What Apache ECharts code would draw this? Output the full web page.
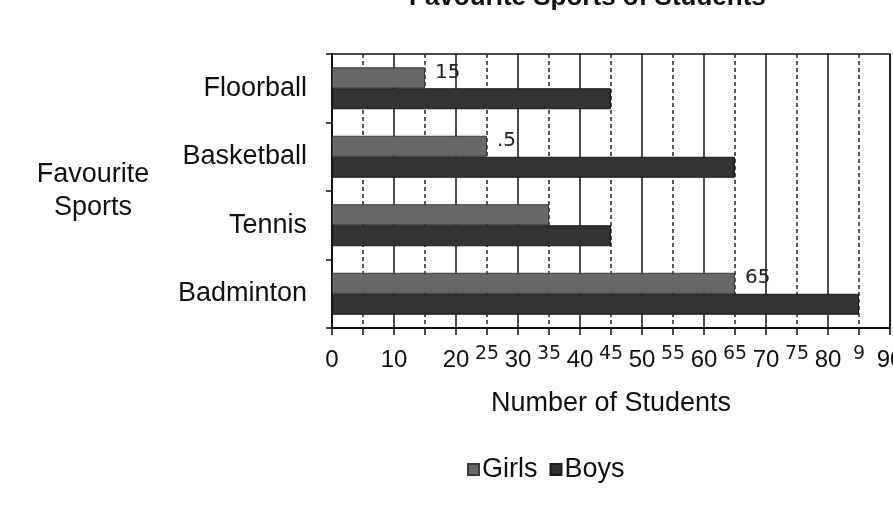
<!DOCTYPE html>
<html>
<head>
<meta charset="utf-8">
<script src="https://cdn.jsdelivr.net/npm/echarts@6/dist/echarts.min.js"></script>
<style>
html,body{margin:0;padding:0;background:#fff;}
#chart{width:893px;height:506px;}
</style>
</head>
<body>
<div id="chart"></div>
<script>
// ---- data ----
const categories = ['Floorball', 'Basketball', 'Tennis', 'Badminton'];
const girls = [15, 25, 35, 65];
const boys = [45, 65, 45, 85];
const seriesNames = ['Girls', 'Boys'];
// handwritten notes next to the girls' bars
const girlNotes = ['15', '.5', '', '65'];
// handwritten in-between tick labels
const halfTickLabels = {25: '25', 35: '35', 45: '45', 55: '55', 65: '65', 75: '75', 85: '9'};

const FONT = 'Liberation Sans, Arial, sans-serif';
const INK = '#111';

const chart = echarts.init(document.getElementById('chart'), null, {renderer: 'canvas'});

const option = {
  backgroundColor: '#fff',
  animation: false,
  title: {
    text: 'Favourite Sports of Students',
    left: 404,
    top: -20,
    textStyle: {fontFamily: FONT, fontSize: 26, fontWeight: 'bold', color: INK}
  },
  legend: {
    data: seriesNames,
    left: 462,
    top: 451,
    itemWidth: 11,
    itemHeight: 11,
    itemGap: 12,
    icon: 'rect',
    textStyle: {fontFamily: FONT, fontSize: 27, color: INK, padding: [0, 0, 0, -2]}
  },
  grid: {
    left: 332, right: 3, top: 54, bottom: 178,
    outerBoundsMode: 'none',
    containLabel: false,
    show: true, borderColor: INK, borderWidth: 1.5, backgroundColor: 'transparent'
  },
  xAxis: [{
    type: 'value',
    min: 0, max: 90, interval: 10,
    name: 'Number of Students',
    nameLocation: 'middle',
    nameGap: 62,
    nameTextStyle: {fontFamily: FONT, fontSize: 27, color: INK},
    axisLine: {show: true, lineStyle: {color: INK, width: 2}},
    axisTick: {show: true, length: 7, lineStyle: {color: INK, width: 1.5}},
    minorTick: {show: true, splitNumber: 2, length: 7, lineStyle: {color: INK, width: 1.5}},
    splitLine: {show: true, lineStyle: {color: INK, width: 1.5}},
    minorSplitLine: {show: true, lineStyle: {color: '#222', width: 1.5, type: [4, 3]}},
    axisLabel: {fontFamily: FONT, fontSize: 24, color: INK, margin: 20}
  }, {
    type: 'value',
    position: 'bottom',
    min: 0, max: 90, interval: 5,
    axisLine: {show: false},
    axisTick: {show: false},
    splitLine: {show: false},
    axisLabel: {
      fontFamily: 'DejaVu Sans, sans-serif', fontSize: 19, color: '#1a1a1a', margin: 17,
      formatter: v => halfTickLabels[v] || ''
    }
  }],
  yAxis: {
    type: 'category',
    data: categories,
    inverse: true,
    name: 'Favourite\nSports',
    nameLocation: 'middle',
    nameRotate: 0,
    nameGap: 239,
    nameTextStyle: {fontFamily: FONT, fontSize: 27, color: INK, align: 'center', lineHeight: 33},
    axisLine: {show: true, lineStyle: {color: INK, width: 2}},
    axisTick: {show: true, length: 6, lineStyle: {color: INK, width: 1.5}},
    splitLine: {show: false},
    axisLabel: {fontFamily: FONT, fontSize: 27, color: INK, margin: 25}
  },
  series: [{
    name: seriesNames[0],
    type: 'bar',
    xAxisIndex: 0,
    data: girls.map((v, i) => ({
      value: v,
      label: {
        show: !!girlNotes[i],
        formatter: () => girlNotes[i]
      }
    })),
    barWidth: 21,
    barGap: '0%',
    itemStyle: {color: '#676767', borderColor: '#3a3a3a', borderWidth: 1},
    label: {
      position: 'right', distance: 10, offset: [0, -5],
      fontFamily: 'DejaVu Sans, sans-serif', fontSize: 20, color: '#222'
    }
  }, {
    name: seriesNames[1],
    type: 'bar',
    xAxisIndex: 0,
    data: boys,
    barWidth: 21,
    barGap: '0%',
    itemStyle: {color: '#333333', borderColor: '#1a1a1a', borderWidth: 1}
  }]
};

chart.setOption(option);
</script>
</body>
</html>
